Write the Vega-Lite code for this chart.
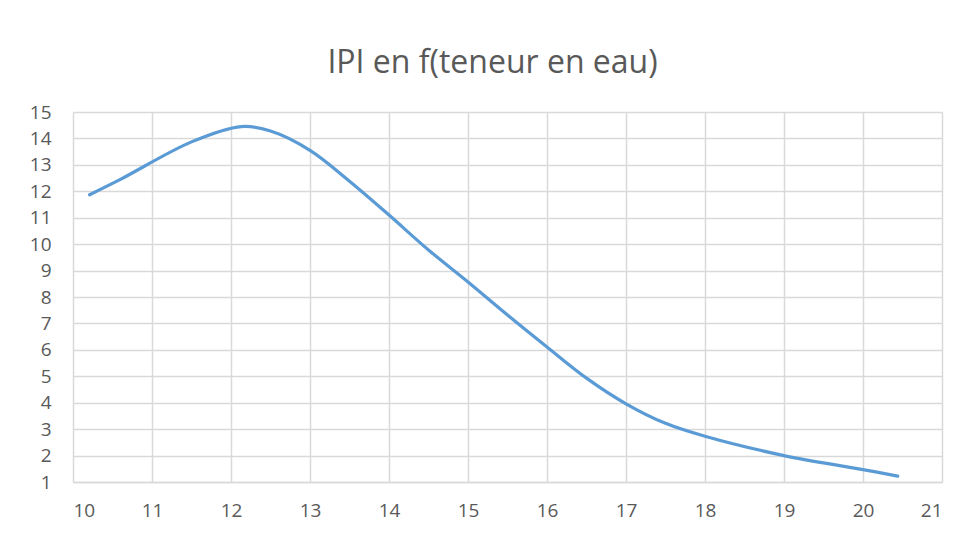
{
  "$schema": "https://vega.github.io/schema/vega-lite/v6.json",
  "width": 869,
  "height": 370,
  "autosize": {"type": "none"},
  "padding": {"left": 73, "top": 112, "right": 29, "bottom": 54},
  "background": "white",
  "title": {
    "text": "IPI en f(teneur en eau)",
    "anchor": "middle",
    "dx": -15,
    "offset": 23,
    "font": "Open Sans",
    "fontSize": 32,
    "fontWeight": "normal",
    "color": "#595959"
  },
  "data": {
    "values": [
      {"teneur": 10.21, "IPI": 11.87},
      {"teneur": 10.6, "IPI": 12.45},
      {"teneur": 11.5, "IPI": 13.87},
      {"teneur": 12.13, "IPI": 14.45},
      {"teneur": 12.5, "IPI": 14.28},
      {"teneur": 13.0, "IPI": 13.55},
      {"teneur": 13.5, "IPI": 12.38},
      {"teneur": 14.0, "IPI": 11.1},
      {"teneur": 14.5, "IPI": 9.78},
      {"teneur": 15.0, "IPI": 8.57},
      {"teneur": 15.5, "IPI": 7.32},
      {"teneur": 16.0, "IPI": 6.11},
      {"teneur": 16.5, "IPI": 4.93},
      {"teneur": 17.0, "IPI": 3.96},
      {"teneur": 17.5, "IPI": 3.22},
      {"teneur": 18.0, "IPI": 2.73},
      {"teneur": 19.0, "IPI": 2.0},
      {"teneur": 20.0, "IPI": 1.47},
      {"teneur": 20.44, "IPI": 1.22}
    ]
  },
  "mark": {"type": "line", "color": "#5B9BD5", "strokeWidth": 3.2, "interpolate": "catmull-rom", "strokeCap": "round"},
  "encoding": {
    "x": {
      "field": "teneur",
      "type": "quantitative",
      "scale": {"domain": [10, 21], "nice": false, "zero": false},
      "axis": {"title": null, "values": [10,11,12,13,14,15,16,17,18,19,20,21], "labelPadding": 19, "domainColor": "#d9d9d9", "domainWidth": 1.5}
    },
    "y": {
      "field": "IPI",
      "type": "quantitative",
      "scale": {"domain": [1, 15], "nice": false, "zero": false},
      "axis": {"title": null, "values": [1,2,3,4,5,6,7,8,9,10,11,12,13,14,15], "labelPadding": 22, "domain": false}
    }
  },
  "config": {
    "view": {"stroke": null},
    "axis": {
      "ticks": false,
      "grid": true,
      "gridColor": "#d9d9d9",
      "gridWidth": 1.5,
      "gridOpacity": 1,
      "labelFont": "Open Sans",
      "labelFontSize": 19,
      "labelColor": "#595959",
      "labelOverlap": false
    }
  }
}
